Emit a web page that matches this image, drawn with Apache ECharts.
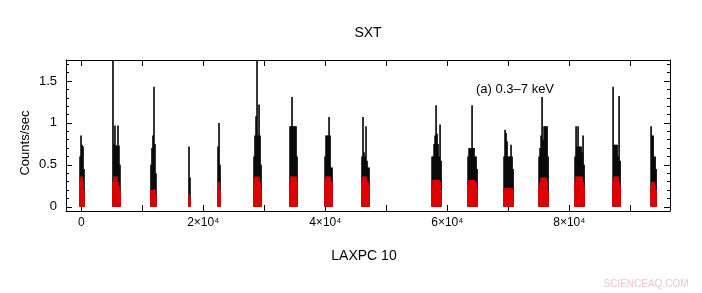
<!DOCTYPE html>
<html>
<head>
<meta charset="utf-8">
<script src="https://cdn.jsdelivr.net/npm/echarts@6/dist/echarts.min.js"></script>
<style>
  html, body { margin: 0; background: #fff; }
  #lightcurve { width: 702px; height: 293px; }
</style>
</head>
<body>
<div id="lightcurve"></div>
<script>
// time bin (s) and orbit segment start times (s)
const binSize = 164;
const segStarts = [-200, 5200, 11430, 17660, 22420, 28320, 34220, 39960, 46020,
    57500, 63400, 69300, 75040, 80940, 87170, 93400];

// SXT 0.3-7 keV count rate per bin (black)
const blackSegs = [
    [0.6, 0.85, 0.74, 0.72, 0.45],
    [1.8, 0.75, 0.97, 0.73, 0.73, 0.97, 0.73, 0.5],
    [0.5, 0.7, 0.85, 1.43, 0.75, 0.4],
    [0.72, 0.35],
    [0.72, 1.0, 0.5],
    [0.6, 0.85, 1.08, 1.8, 0.85, 1.22, 0.85, 0.5],
    [0.96, 0.96, 1.31, 0.96, 0.96, 0.96, 0.96, 0.6],
    [0.6, 0.85, 0.85, 0.85, 1.07, 0.85, 0.47, 0.47],
    [0.6, 1.07, 0.65, 0.6, 0.96, 0.55, 0.47, 0.47],
    [0.6, 0.6, 0.75, 0.85, 1.21, 0.87, 0.75, 0.6, 0.98, 0.55],
    [0.6, 0.7, 0.7, 0.7, 1.21, 0.7, 0.7, 0.6, 0.6, 0.45],
    [0.6, 0.92, 0.88, 0.78, 0.6, 0.6, 0.6, 0.74, 0.6, 0.45],
    [0.6, 0.7, 0.85, 1.31, 0.8, 0.96, 0.96, 0.96, 0.96, 0.6],
    [0.6, 0.96, 0.72, 0.96, 0.72, 0.72, 0.72, 0.65, 0.85, 0.5],
    [1.43, 0.74, 0.74, 0.74, 0.74, 0.6, 1.32, 0.55],
    [0.96, 0.85, 0.85, 0.6, 0.6, 0.45]
];

// LAXPC 10 simultaneous rate per bin (red)
const redSegs = [
    [0.3, 0.36, 0.36, 0.3, 0.2],
    [0.3, 0.36, 0.36, 0.3, 0.36, 0.3, 0.25, 0.2],
    [0.2, 0.2, 0.2, 0.21, 0.2, 0.15],
    [0.15, 0.1],
    [0.28, 0.3, 0.2],
    [0.3, 0.36, 0.36, 0.36, 0.3, 0.36, 0.3, 0.2],
    [0.3, 0.36, 0.36, 0.36, 0.36, 0.36, 0.36, 0.3],
    [0.3, 0.36, 0.36, 0.36, 0.36, 0.36, 0.3, 0.3],
    [0.3, 0.36, 0.36, 0.36, 0.36, 0.3, 0.3, 0.25],
    [0.25, 0.32, 0.32, 0.32, 0.32, 0.32, 0.32, 0.32, 0.3, 0.2],
    [0.25, 0.32, 0.32, 0.32, 0.32, 0.32, 0.32, 0.3, 0.3, 0.2],
    [0.2, 0.22, 0.22, 0.22, 0.22, 0.22, 0.22, 0.22, 0.22, 0.2],
    [0.25, 0.3, 0.35, 0.35, 0.35, 0.35, 0.35, 0.35, 0.3, 0.2],
    [0.3, 0.36, 0.36, 0.36, 0.36, 0.36, 0.36, 0.36, 0.3, 0.25],
    [0.3, 0.36, 0.36, 0.36, 0.36, 0.36, 0.3, 0.25],
    [0.25, 0.3, 0.3, 0.3, 0.25, 0.2]
];

// axis ticks
const xTicks = [0, 10000, 20000, 30000, 40000, 50000, 60000, 70000, 80000, 90000];
const xLabels = [0, 20000, 40000, 60000, 80000];
const yTicks = [0, 0.5, 1, 1.5];
const yMinorTicks = [0.1, 0.2, 0.3, 0.4, 0.6, 0.7, 0.8, 0.9, 1.1, 1.2, 1.3, 1.4, 1.6, 1.7];

function toPoints(segs) {
    let pts = [];
    segs.forEach(function(vals, s) {
        vals.forEach(function(v, i) {
            pts.push([segStarts[s] + i * binSize, v]);
        });
    });
    return pts;
}

const FONT = 'Liberation Sans, Arial, Helvetica, sans-serif';

function xAxisDef(pos, labels) {
    return {
        type: 'value',
        position: pos,
        min: -2500,
        max: 96500,
        axisLine: { show: true, onZero: false, lineStyle: { color: '#000', width: 1 } },
        axisTick: { show: true, inside: true, length: 6, customValues: xTicks, lineStyle: { color: '#000' } },
        axisLabel: {
            show: labels,
            customValues: xLabels,
            margin: 6,
            color: '#000',
            fontFamily: FONT,
            fontSize: 12,
            formatter: function(v) {
                return v === 0 ? '0' : (v / 10000) + '×10⁴';
            }
        },
        splitLine: { show: false }
    };
}

function yAxisDef(pos, ticks, len, labels, line) {
    return {
        type: 'value',
        position: pos,
        min: -0.05,
        max: 1.75,
        axisLine: { show: line, onZero: false, lineStyle: { color: '#000', width: 1 } },
        axisTick: { show: true, inside: true, length: len, customValues: ticks, lineStyle: { color: '#000' } },
        axisLabel: {
            show: labels,
            customValues: yTicks,
            margin: 9,
            color: '#000',
            fontFamily: FONT,
            fontSize: 13,
            formatter: function(v) { return String(v); }
        },
        splitLine: { show: false }
    };
}

let lcChart = echarts.init(document.getElementById('lightcurve'));
let option = {
    animation: false,
    backgroundColor: '#fff',
    grid: { left: 66, right: 32, top: 60, bottom: 82 },
    xAxis: [xAxisDef('bottom', true), xAxisDef('top', false)],
    yAxis: [
        yAxisDef('left', yTicks, 6, true, true),
        yAxisDef('left', yMinorTicks, 3, false, false),
        yAxisDef('right', yTicks, 6, false, true),
        yAxisDef('right', yMinorTicks, 3, false, false)
    ],
    graphic: [
        { type: 'text', x: 368, y: 33, style: { text: 'SXT', font: '14px ' + FONT, fill: '#000', textAlign: 'center', textVerticalAlign: 'middle' } },
        { type: 'text', x: 364, y: 256, style: { text: 'LAXPC 10', font: '14px ' + FONT, fill: '#000', textAlign: 'center', textVerticalAlign: 'middle' } },
        { type: 'text', x: 25, y: 143, rotation: Math.PI / 2, style: { text: 'Counts/sec', font: '13px ' + FONT, fill: '#000', textAlign: 'center', textVerticalAlign: 'middle' } },
        { type: 'text', x: 476, y: 89, style: { text: '(a) 0.3–7 keV', font: '13px ' + FONT, fill: '#000', textAlign: 'left', textVerticalAlign: 'middle' } },
        { type: 'text', x: 646, y: 284, style: { text: 'SCIENCEAQ.COM', font: '10px ' + FONT, fill: '#efc4cc', textAlign: 'center', textVerticalAlign: 'middle' } }
    ],
    series: [{
            name: 'SXT',
            type: 'bar',
            xAxisIndex: 0,
            yAxisIndex: 0,
            barWidth: 1.6,
            barGap: '-100%',
            clip: true,
            itemStyle: { color: '#000' },
            data: toPoints(blackSegs)
        },
        {
            name: 'LAXPC 10',
            type: 'bar',
            xAxisIndex: 0,
            yAxisIndex: 0,
            barWidth: 1.6,
            barGap: '-100%',
            clip: true,
            itemStyle: { color: '#e80000' },
            data: toPoints(redSegs)
        }
    ]
};
lcChart.setOption(option);
</script>
</body>
</html>
